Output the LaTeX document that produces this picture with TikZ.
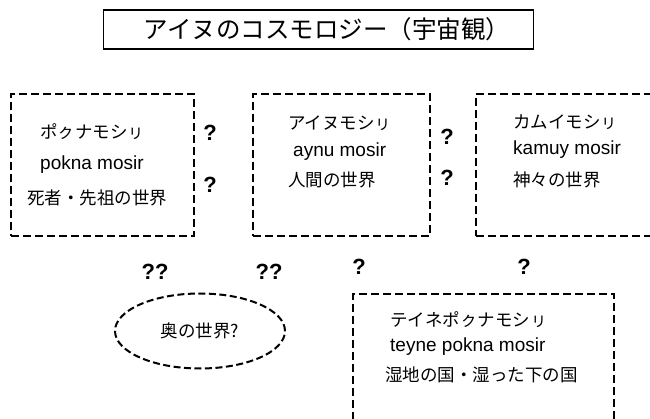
\documentclass[tikz,border=0pt]{standalone}
\usepackage{fontspec}
\setmainfont{Liberation Sans}
\newfontfamily\jp{Noto Sans CJK JP}
\usetikzlibrary{shapes.geometric}
\begin{document}
\begin{tikzpicture}[x=1pt,y=-1pt,
 world/.style={draw, line width=2pt, dash pattern=on 8pt off 4pt, inner sep=0pt, anchor=north west},
 jtxt/.style={font=\jp\fontsize{17.5}{20}\selectfont, inner sep=0pt, anchor=west},
 ltxt/.style={font=\fontsize{19}{21}\selectfont, inner sep=0pt, anchor=west},
 qm/.style={font=\bfseries\fontsize{22}{24}\selectfont, inner sep=0pt}]
\clip (0,0) rectangle (650,419);
\fill[white] (0,0) rectangle (650,419);
\node[draw, line width=1.3pt, minimum width=430pt, minimum height=39pt, inner sep=0pt] (title) at (318.5,29.5) {};
\node[inner sep=0pt, font=\jp\fontsize{24.5}{26}\selectfont] (titletext) at (327,29.5) {アイヌのコスモロジー（宇宙観）};
% box 1
\node[world, minimum width=183pt, minimum height=142pt] (b1) at (10,93) {};
\node[jtxt] (b1a) at (40,132) {ポㇰナモシㇼ};
\node[ltxt] (b1b) at (40,165) {pokna mosir};
\node[jtxt] (b1c) at (27,198) {死者・先祖の世界};
% box 2
\node[world, minimum width=177pt, minimum height=142pt] (b2) at (252,93) {};
\node[jtxt] (b2a) at (288,123) {アイヌモシㇼ};
\node[ltxt] (b2b) at (293,152) {aynu mosir};
\node[jtxt] (b2c) at (288,180) {人間の世界};
% box 3
\node[world, minimum width=185pt, minimum height=142pt] (b3) at (475,93) {};
\node[jtxt] (b3a) at (513,122) {カムイモシㇼ};
\node[ltxt] (b3b) at (513,150) {kamuy mosir};
\node[jtxt] (b3c) at (513,180) {神々の世界};
% box 4
\node[world, minimum width=261pt, minimum height=140pt] (b4) at (352,293) {};
\node[jtxt] (b4a) at (390,320) {テイネポㇰナモシㇼ};
\node[ltxt] (b4b) at (390,347) {teyne pokna mosir};
\node[jtxt] (b4c) at (385,375) {湿地の国・湿った下の国};
% ellipse
\node[draw, ellipse, line width=2pt, dash pattern=on 7pt off 3.5pt, minimum width=170pt,
      minimum height=75pt, inner sep=0pt, font=\jp\fontsize{17.5}{20}\selectfont] (oku) at (200,331) {奥の世界?};
% question marks
\node[qm] (q1) at (210,133) {?};
\node[qm] (q2) at (210,185) {?};
\node[qm] (q3) at (447,137) {?};
\node[qm] (q4) at (447,178) {?};
\node[qm] (q5) at (155,272) {??};
\node[qm] (q6) at (269,272) {??};
\node[qm] (q7) at (359,267) {?};
\node[qm] (q8) at (524,267) {?};
\end{tikzpicture}
\end{document}
